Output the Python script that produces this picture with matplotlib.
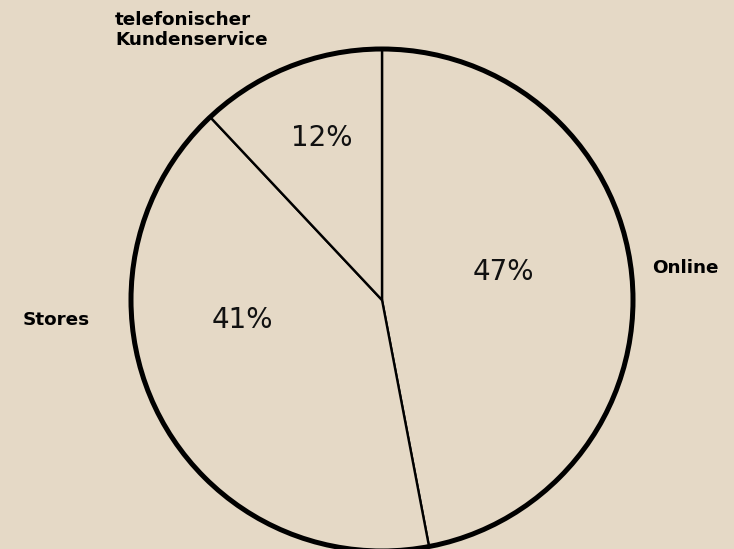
import matplotlib.pyplot as plt
from matplotlib.patches import Circle

kategorien = ['Online', 'Stores', 'telefonischer\nKundenservice']
anteile = [47, 41, 12]
prozent_texte = ['47%', '41%', '12%']

bg = '#E5D9C6'

# label positions (pixels, y from top) - picked by eye
label_pos = [(652, 268, 'left'), (90, 320, 'right'), (115, 30, 'left')]
pct_pos = [(503, 272), (242, 320), (322, 138)]

fig = plt.figure(figsize=(7.34, 5.49), dpi=100)
fig.patch.set_facecolor(bg)
ax = fig.add_axes([0, 0, 1, 1])
ax.set_facecolor(bg)
ax.set_xlim(0, 734)
ax.set_ylim(0, 549)
ax.set_aspect('equal')
ax.axis('off')

cx, cy, r = 382, 549 - 300, 251

wedges, _ = ax.pie(anteile, startangle=90, counterclock=False,
                   center=(cx, cy), radius=r, colors=[bg] * 3,
                   wedgeprops=dict(edgecolor='black', linewidth=1.7))
ax.add_patch(Circle((cx, cy), r, fill=False, edgecolor='black', linewidth=3.6, zorder=5))
ax.set_xlim(0, 734)
ax.set_ylim(0, 549)

for (x, y, ha), name in zip(label_pos, kategorien):
    ax.text(x, 549 - y, name, ha=ha, va='center', fontsize=13.2,
            fontweight='bold', family='DejaVu Sans', color='black',
            linespacing=1.15)

for (x, y), t in zip(pct_pos, prozent_texte):
    ax.text(x, 549 - y, t, ha='center', va='center', fontsize=20,
            family='DejaVu Sans', color='#111111')

fig.savefig('out.png', dpi=100, facecolor=bg)
